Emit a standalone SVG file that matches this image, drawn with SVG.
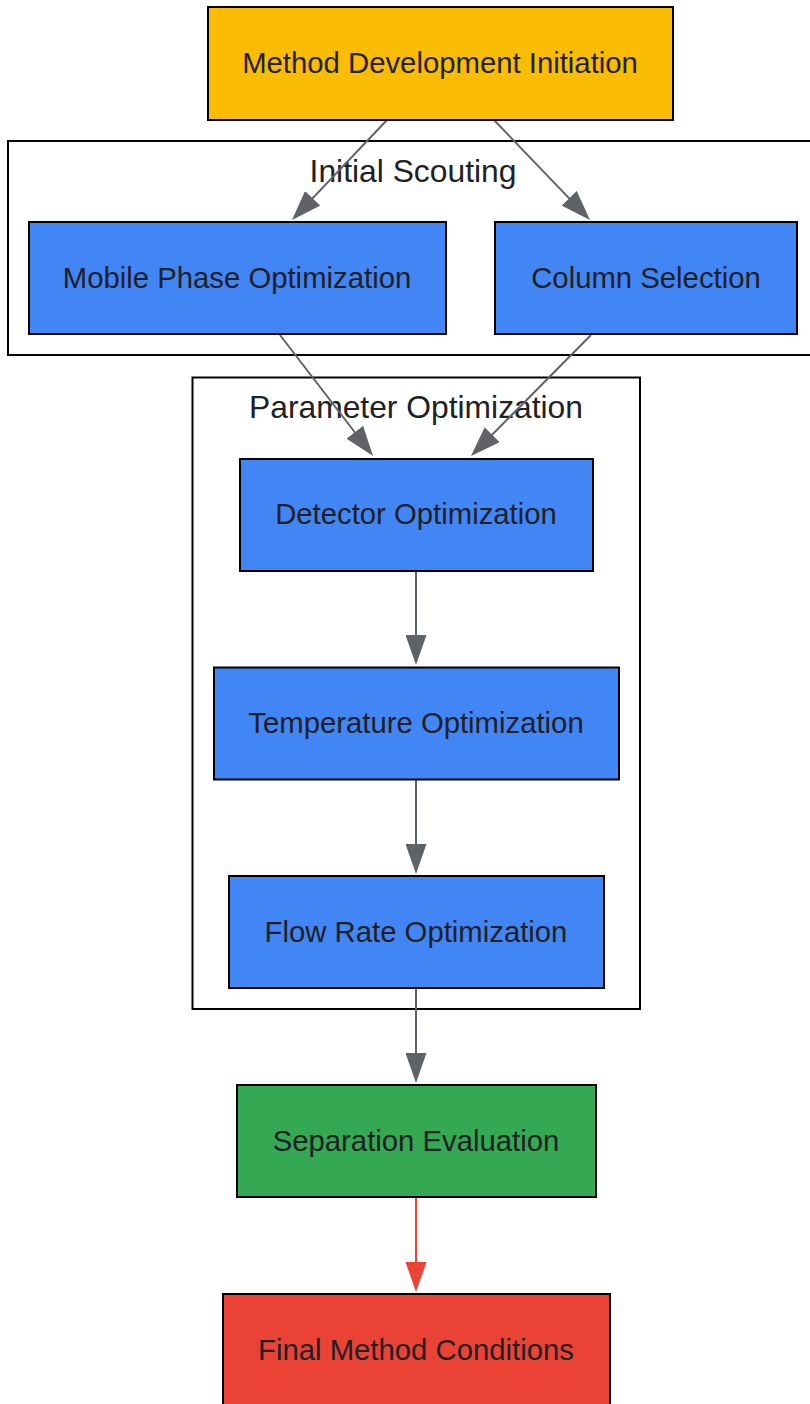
<svg xmlns="http://www.w3.org/2000/svg" width="810" height="1404" viewBox="0 0 810 1404">
<style>
.node rect{stroke:#000;stroke-width:2}
.node text{font-family:"Liberation Sans",Arial,sans-serif;font-size:29.3px;fill:#202124;text-anchor:middle}
.cluster rect{fill:none;stroke:#000;stroke-width:2}
.cluster text{font-family:"Liberation Sans",Arial,sans-serif;font-size:31.8px;fill:#202124;text-anchor:middle}
.edge{stroke:#5F6368;stroke-width:2;fill:none;marker-end:url(#ah)}
.edge.red{stroke:#EA4335;marker-end:url(#ahr)}
</style>
<defs>
<marker id="ah" viewBox="0 0 30 21" refX="25" refY="10.5" markerWidth="30" markerHeight="21" markerUnits="userSpaceOnUse" orient="auto">
<path d="M0,0 L30,10.5 L0,21 Z" fill="#5F6368"/>
</marker>
<marker id="ahr" viewBox="0 0 30 21" refX="25" refY="10.5" markerWidth="30" markerHeight="21" markerUnits="userSpaceOnUse" orient="auto">
<path d="M0,0 L30,10.5 L0,21 Z" fill="#EA4335"/>
</marker>
</defs>
<rect width="810" height="1404" fill="#fff"/>
<g id="cluster_scouting" class="cluster">
<rect x="8" y="141" width="820" height="214"/>
<text x="413" y="182">Initial Scouting</text>
</g>
<g id="cluster_parameter" class="cluster">
<rect x="192.5" y="377.5" width="447.5" height="631.5"/>
<text x="416" y="418">Parameter Optimization</text>
</g>
<g id="connectors">
<line class="edge" x1="387" y1="120" x2="295.4" y2="216.4"/>
<line class="edge" x1="494" y1="120" x2="586.5" y2="216.4"/>
<line class="edge" x1="280" y1="335" x2="370" y2="452"/>
<line class="edge" x1="591" y1="335" x2="474.5" y2="452.5"/>
<line class="edge" x1="416" y1="571" x2="416" y2="660"/>
<line class="edge" x1="416" y1="780" x2="416" y2="869"/>
<line class="edge" x1="416" y1="989" x2="416" y2="1078"/>
<line class="edge red" x1="416" y1="1197" x2="416" y2="1287"/>
</g>
<g id="n_init" class="node">
<rect x="208" y="7" width="465" height="113" fill="#FBBC05"/>
<text x="440" y="73">Method Development Initiation</text>
</g>
<g id="n_mobile" class="node">
<rect x="29" y="222" width="417" height="112" fill="#4285F4"/>
<text x="237" y="288">Mobile Phase Optimization</text>
</g>
<g id="n_column" class="node">
<rect x="495" y="222" width="302" height="112" fill="#4285F4"/>
<text x="646" y="288">Column Selection</text>
</g>
<g id="n_detector" class="node">
<rect x="240" y="459" width="353" height="112" fill="#4285F4"/>
<text x="416" y="524">Detector Optimization</text>
</g>
<g id="n_temp" class="node">
<rect x="214" y="667.5" width="405" height="112" fill="#4285F4"/>
<text x="416" y="733">Temperature Optimization</text>
</g>
<g id="n_flow" class="node">
<rect x="229" y="876" width="375" height="112" fill="#4285F4"/>
<text x="416" y="942">Flow Rate Optimization</text>
</g>
<g id="n_sep" class="node">
<rect x="237" y="1085" width="359" height="112" fill="#34A853"/>
<text x="416" y="1151">Separation Evaluation</text>
</g>
<g id="n_final" class="node">
<rect x="223" y="1294" width="387" height="113" fill="#EA4335"/>
<text x="416" y="1360">Final Method Conditions</text>
</g>
</svg>
